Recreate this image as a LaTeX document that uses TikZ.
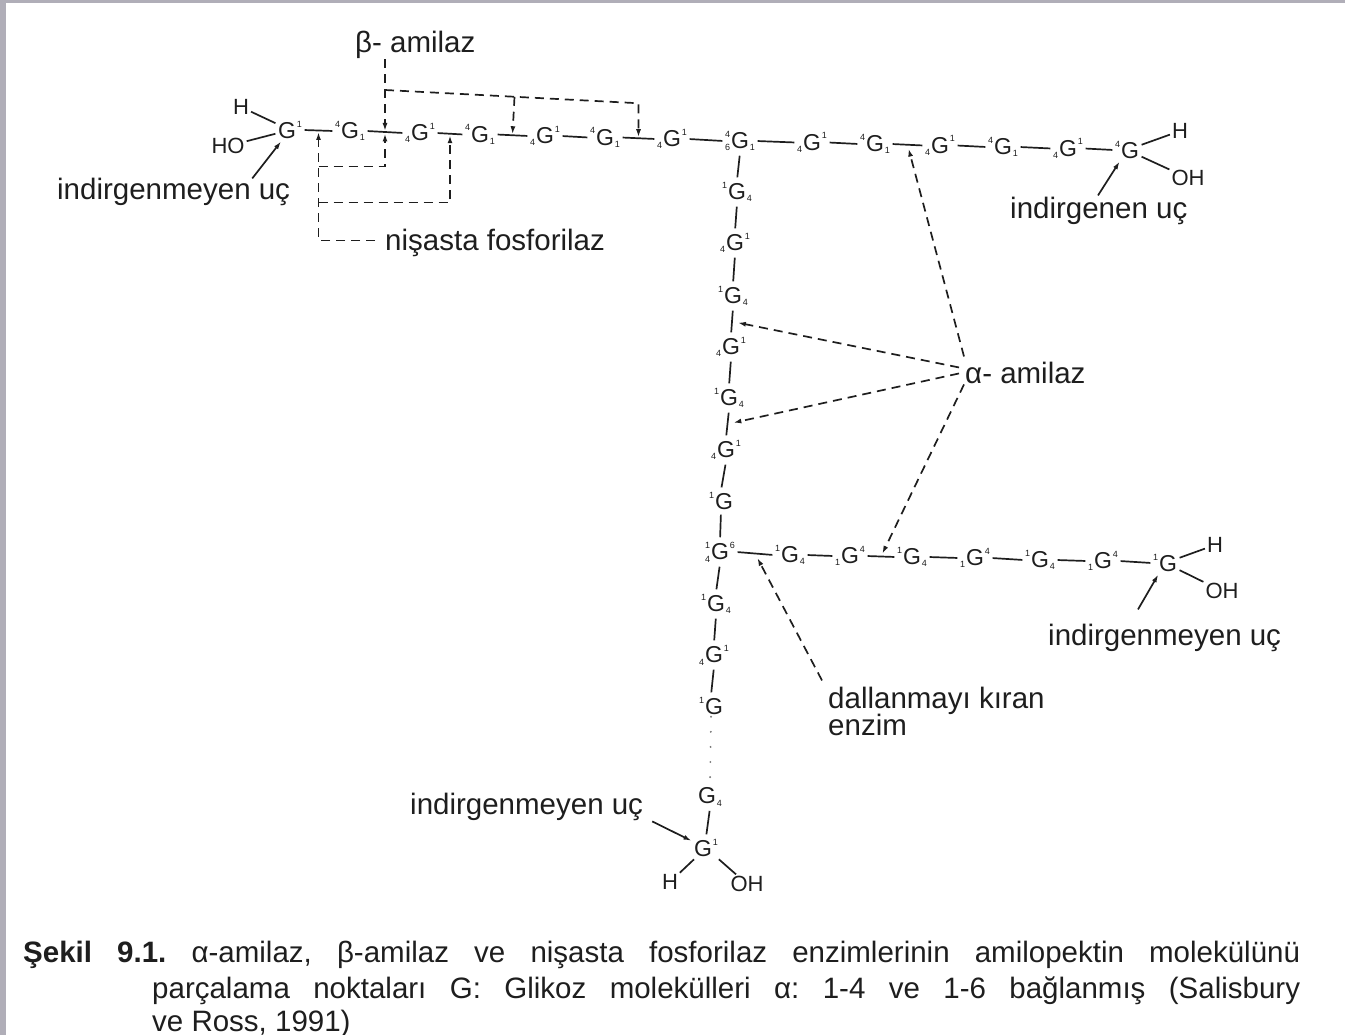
\documentclass[tikz,border=0pt]{standalone}
\usepackage{fontspec}
\setmainfont{Liberation Sans}
\usetikzlibrary{arrows.meta,calc}
\frenchspacing

% small position numbers around a glucose letter
\newcommand{\hi}[1]{\raisebox{0.5em}{\fontsize{9}{9}\selectfont #1}}
\newcommand{\lo}[1]{\raisebox{-0.1em}{\fontsize{9}{9}\selectfont #1}}
\newcommand{\hl}[2]{\makebox[0pt][l]{\hi{#1}}\lo{#2}}

\definecolor{ink}{HTML}{1E1E1E}
\definecolor{framec}{HTML}{B0AEB8}

\tikzset{
  glu/.style={inner sep=1.5pt, text=ink, font=\fontsize{23}{23}\selectfont},
  atom/.style={inner sep=1pt, text=ink, font=\fontsize{22}{22}\selectfont},
  lbl/.style={inner sep=0pt, anchor=base west, text=ink, font=\fontsize{29.5}{29.5}\selectfont},
  captext/.style={inner sep=0pt, anchor=base west, text=ink, font=\fontsize{29.5}{29.5}\selectfont},
  bond/.style={draw=ink, line width=1.7pt, shorten >=1pt, shorten <=1pt},
  vbond/.style={bond, shorten >=3pt, shorten <=3pt},
  arrowtip/.style={-{Latex[length=8pt,width=5pt]}},
  arr/.style={draw=ink, line width=1.7pt, arrowtip},
  dline/.style={draw=ink, line width=1.7pt, dash pattern=on 9pt off 6pt},
  darr/.style={dline, arrowtip},
  dotline/.style={draw=ink!60, line width=2pt, line cap=round, dash pattern=on 0.1pt off 15pt},
}

\begin{document}
\begin{tikzpicture}[x=1pt,y=-1pt]
\useasboundingbox (0,0) rectangle (1345,1035);

% scanner frame at the left and top edges
\fill[framec] (0,0) rectangle (6,1035);
\fill[framec] (0,0) rectangle (1345,3);

% ---------- main chain (top) ----------
\node[glu] (t1)  at (290,130)   {G\kern1pt\hi{1}};
\node[glu] (t2)  at (350,131)   {\hi{4}\kern1pt G\kern1pt\lo{1}};
\node[glu] (t3)  at (420,133)   {\lo{4}\kern1pt G\kern1pt\hi{1}};
\node[glu] (t4)  at (480,134.5) {\hi{4}\kern1pt G\kern1pt\lo{1}};
\node[glu] (t5)  at (545,136)   {\lo{4}\kern1pt G\kern1pt\hi{1}};
\node[glu] (t6)  at (605,137.5) {\hi{4}\kern1pt G\kern1pt\lo{1}};
\node[glu] (t7)  at (672,139)   {\lo{4}\kern1pt G\kern1pt\hi{1}};
\node[glu] (t8)  at (740,141)   {\hl{4}{6}\kern1pt G\kern1pt\lo{1}};
\node[glu] (t9)  at (812,142.5) {\lo{4}\kern1pt G\kern1pt\hi{1}};
\node[glu] (t10) at (875,144)   {\hi{4}\kern1pt G\kern1pt\lo{1}};
\node[glu] (t11) at (940,145.5) {\lo{4}\kern1pt G\kern1pt\hi{1}};
\node[glu] (t12) at (1003,147)  {\hi{4}\kern1pt G\kern1pt\lo{1}};
\node[glu] (t13) at (1068,148.5){\lo{4}\kern1pt G\kern1pt\hi{1}};
\node[glu] (t14) at (1127,150)  {\hi{4}\kern1pt G};

\foreach \a/\b [count=\i] in {t1/t2,t2/t3,t3/t4,t4/t5,t5/t6,t6/t7,t7/t8,t8/t9,t9/t10,t10/t11,t11/t12,t12/t13,t13/t14}{
  \draw[bond] (\a.east) -- (\b.west);
  \coordinate (b\i) at ($(\a.east)!.5!(\b.west)$);
}

% reducing-end groups of the main chain
\node[atom] (h1)  at (241,107) {H};
\node[atom] (ho1) at (228,146) {HO};
\draw[bond] (h1) -- (t1);
\draw[bond] (ho1) -- (t1);
\node[atom] (h2)  at (1180,131) {H};
\node[atom] (oh2) at (1188,178) {OH};
\draw[bond] (t14) -- (h2);
\draw[bond] (t14) -- (oh2);

% ---------- branch going down ----------
\node[glu] (v1) at (737,192) {\hi{1}\kern1pt G\kern1pt\lo{4}};
\node[glu] (v2) at (735,243) {\lo{4}\kern1pt G\kern1pt\hi{1}};
\node[glu] (v3) at (733,296) {\hi{1}\kern1pt G\kern1pt\lo{4}};
\node[glu] (v4) at (731,347) {\lo{4}\kern1pt G\kern1pt\hi{1}};
\node[glu] (v5) at (729,398) {\hi{1}\kern1pt G\kern1pt\lo{4}};
\node[glu] (v6) at (726,450) {\lo{4}\kern1pt G\kern1pt\hi{1}};
\node[glu] (v7) at (721,501) {\hi{1}\kern1pt G};
\node[glu] (v8) at (720,552) {\hl{1}{4}\kern1pt G\kern1pt\hi{6}};
\node[glu] (w1) at (716,604) {\hi{1}\kern1pt G\kern1pt\lo{4}};
\node[glu] (w2) at (714,655) {\lo{4}\kern1pt G\kern1pt\hi{1}};
\node[glu] (w3) at (711,706) {\hi{1}\kern1pt G};
\node[glu] (w4) at (710,797) {G\kern1pt\lo{4}};
\node[glu] (w5) at (706,848) {G\kern1pt\hi{1}};

\draw[vbond] (t8.south) -- (v1.north);
\foreach \a/\b [count=\i] in {v1/v2,v2/v3,v3/v4,v4/v5,v5/v6,v6/v7,v7/v8,v8/w1,w1/w2,w2/w3}{
  \draw[vbond] (\a.south) -- (\b.north);
  \coordinate (c\i) at ($(\a.south)!.5!(\b.north)$);
}
\draw[dotline] (w3.south) -- (w4.north);
\draw[vbond] (w4.south) -- (w5.north);

\node[atom] (h3)  at (670,882) {H};
\node[atom] (oh3) at (747,884) {OH};
\draw[bond] (w5) -- (h3);
\draw[bond] (w5) -- (oh3);

% ---------- side chain to the right ----------
\node[glu] (r1) at (790,555)  {\hi{1}\kern1pt G\kern1pt\lo{4}};
\node[glu] (r2) at (850,556)  {\lo{1}\kern1pt G\kern1pt\hi{4}};
\node[glu] (r3) at (912,557)  {\hi{1}\kern1pt G\kern1pt\lo{4}};
\node[glu] (r4) at (975,558)  {\lo{1}\kern1pt G\kern1pt\hi{4}};
\node[glu] (r5) at (1040,560) {\hi{1}\kern1pt G\kern1pt\lo{4}};
\node[glu] (r6) at (1103,561) {\lo{1}\kern1pt G\kern1pt\hi{4}};
\node[glu] (r7) at (1165,563) {\hi{1}\kern1pt G};

\foreach \a/\b [count=\i] in {v8/r1,r1/r2,r2/r3,r3/r4,r4/r5,r5/r6,r6/r7}{
  \draw[bond] (\a.east) -- (\b.west);
  \coordinate (s\i) at ($(\a.east)!.5!(\b.west)$);
}

\node[atom] (h4)  at (1215,545) {H};
\node[atom] (oh4) at (1222,591) {OH};
\draw[bond] (r7) -- (h4);
\draw[bond] (r7) -- (oh4);

% ---------- chain-end labels ----------
\node[lbl] (ind1) at (57,200)   {indirgenmeyen uç};
\draw[arr, shorten >=1pt] ($(ind1.north east)+(-38,0)$) -- (t1);
\node[lbl] (ire)  at (1010,219) {indirgenen uç};
\draw[arr, shorten >=1pt] ($(ire.north west)+(88,-2)$) -- (t14);
\node[lbl] (ind2) at (1048,645) {indirgenmeyen uç};
\draw[arr, shorten >=1pt] ($(ind2.north west)+(90,-14)$) -- (r7);
\node[lbl] (ind3) at (410,814)  {indirgenmeyen uç};
\draw[arr, shorten >=1pt] ($(ind3.east)+(9,15)$) -- (w5);

% ---------- beta-amylase ----------
\node[lbl] (beta) at (355,53) {β- amilaz};
\coordinate (bq) at ($(b2)+(0,-42)$);
\coordinate (br) at ($(b6)+(0,-35)$);
\draw[darr, shorten >=1pt] (b2 |- beta.south) -- (b2);
\draw[darr, shorten >=1pt] (bq) -- (br) -- (b6);
\draw[darr, shorten >=1pt] ($(bq)!(b4)!(br)$) -- (b4);

% ---------- starch phosphorylase ----------
\node[lbl] (nis) at (385,251) {nişasta fosforilaz};
\coordinate (n1) at ($(b1)+(0,36)$);
\coordinate (n2) at ($(b1)+(0,72)$);
\draw[darr, shorten >=1.5pt] ($(nis.west)+(-10,-3)$) -| (b1);
\draw[darr, shorten >=1.5pt] (n1) -| (b2);
\draw[darr, shorten >=1.5pt] (n2) -| (b3);

% ---------- alpha-amylase ----------
\node[lbl] (alpha) at (965,383) {α- amilaz};
\draw[darr, shorten >=4pt] ($(alpha.west)+(-1,-16)$) -- (b10);
\draw[darr, shorten >=6pt] ($(alpha.west)+(-6,-5)$) -- (c3);
\draw[darr, shorten >=6pt] ($(alpha.west)+(-6,1)$) -- (c5);
\draw[darr, shorten >=3pt] ($(alpha.west)+(-1,12)$) -- (s3);

% ---------- debranching enzyme ----------
\node[lbl] (dal1) at (828,708) {dallanmayı kıran};
\node[lbl] (dal2) at (828,735) {enzim};
\draw[darr, shorten >=5pt] ($(dal1.north west)+(-6,-6)$) -- (s1);

% ---------- caption ----------
\node[captext] (cap1) at (23,962)  {\makebox[1277pt][s]{\textbf{Şekil 9.1.} α-amilaz, β-amilaz ve nişasta fosforilaz enzimlerinin amilopektin molekülünü}};
\node[captext] (cap2) at (152,998) {\makebox[1148pt][s]{parçalama noktaları G: Glikoz molekülleri α: 1-4 ve 1-6 bağlanmış (Salisbury}};
\node[captext] (cap3) at (152,1031) {ve Ross, 1991)};
\end{tikzpicture}
\end{document}
